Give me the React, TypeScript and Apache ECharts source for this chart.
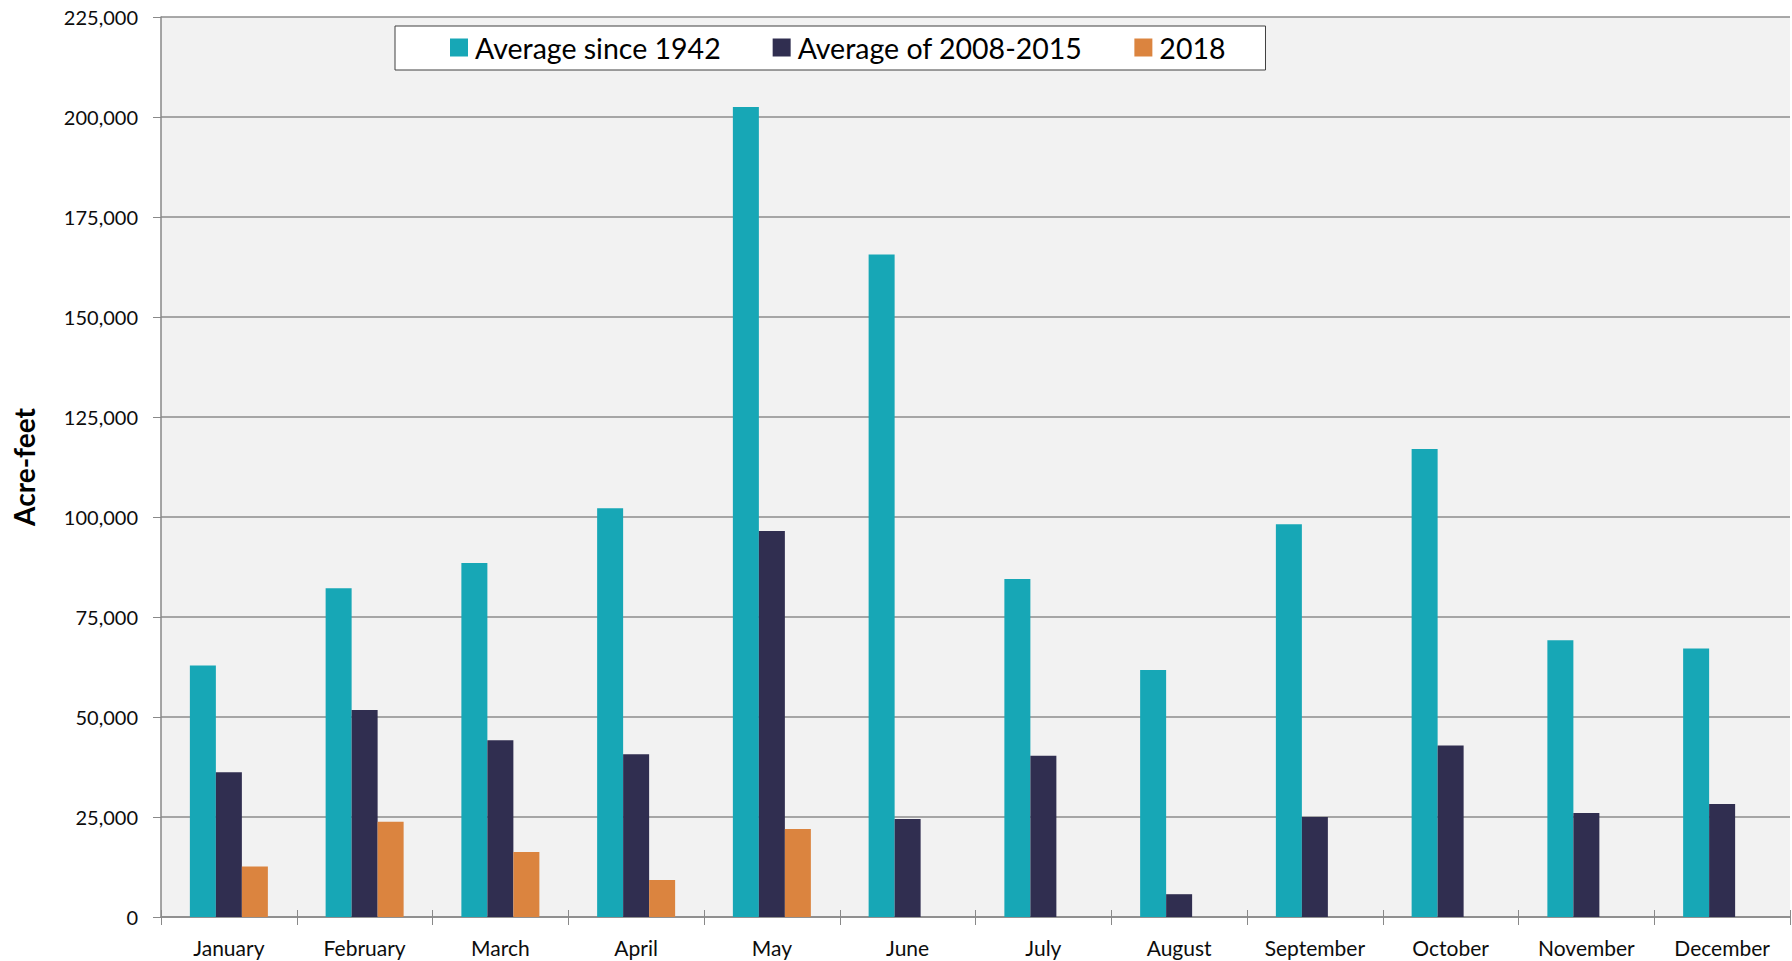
import React, { useEffect, useRef } from "react";
import * as echarts from "echarts";

const months = ["January", "February", "March", "April", "May", "June", "July", "August", "September", "October", "November", "December"];
const avgSince1942 = [62900, 82200, 88500, 102200, 202500, 165600, 84500, 61750, 98200, 117000, 69200, 67100];
const avg2008to2015 = [36200, 51750, 44200, 40700, 96500, 24500, 40300, 5700, 25000, 42900, 26000, 28250];
const y2018 = [12600, 23800, 16250, 9250, 22000, null, null, null, null, null, null, null];
const seriesNames = ["Average since 1942", "Average of 2008-2015", "2018"];
const seriesColors = ["#17A7B6", "#302E50", "#DB843F"];

const FONT = "Lato";

export default function App() {
  const ref = useRef<HTMLDivElement>(null);
  useEffect(() => {
    if (!ref.current) return;
    const chart = echarts.init(ref.current, undefined, { renderer: "svg" });
    const data = [avgSince1942, avg2008to2015, y2018];
    chart.setOption({
      animation: false,
      textStyle: { fontFamily: FONT },
      grid: {
        left: 161,
        top: 17,
        right: 2,
        bottom: 44,
        containLabel: false,
        outerBoundsMode: "none",
        show: true,
        backgroundColor: "#F2F2F2",
        borderWidth: 0,
      },
      legend: {
        left: 395,
        top: 26,
        orient: "horizontal",
        padding: [7, 40, 8, 55],
        itemWidth: 18,
        itemHeight: 18,
        itemGap: 52,
        backgroundColor: "#FFFFFF",
        borderColor: "#404040",
        borderWidth: 1,
        icon: "rect",
        textStyle: { fontFamily: FONT, fontSize: 28.5, color: "#000000", padding: [0, 0, 0, 2] },
        data: seriesNames,
      },
      xAxis: [
        {
          type: "category",
          data: months,
          boundaryGap: true,
          axisLine: { show: true, lineStyle: { color: "#898989", width: 1.5 } },
          axisTick: { show: true, length: 8, lineStyle: { color: "#898989", width: 1 } },
          axisLabel: { fontFamily: FONT, fontSize: 21, color: "#0D0D0D", margin: 20, interval: 0 },
          splitLine: { show: false },
        },
        {
          type: "category",
          data: months,
          position: "bottom",
          boundaryGap: true,
          axisLine: { show: false },
          axisTick: { show: true, inside: true, length: 7, lineStyle: { color: "#898989", width: 1 } },
          axisLabel: { show: false },
          splitLine: { show: false },
        },
      ],
      yAxis: {
        type: "value",
        min: 0,
        max: 225000,
        interval: 25000,
        name: "Acre-feet",
        nameLocation: "middle",
        nameRotate: 90,
        nameGap: 123,
        nameTextStyle: { fontFamily: FONT, fontSize: 28, fontWeight: "bold", color: "#000000" },
        axisLine: { show: true, lineStyle: { color: "#898989", width: 1.5 } },
        axisTick: { show: true, length: 8, lineStyle: { color: "#898989", width: 1 } },
        axisLabel: {
          fontFamily: FONT,
          fontSize: 20,
          color: "#0D0D0D",
          margin: 23,
          formatter: (v: number) => v.toLocaleString("en-US"),
        },
        splitLine: { show: true, lineStyle: { color: "#8C8C8C", width: 1.5 } },
      },
      series: data.map((d, i) => ({
        name: seriesNames[i],
        type: "bar",
        xAxisIndex: 0,
        data: d,
        barWidth: 26,
        barGap: "0%",
        itemStyle: { color: seriesColors[i] },
      })),
    });
    return () => chart.dispose();
  }, []);
  return (
    <div
      ref={ref}
      style={{ position: "fixed", left: 0, top: 0, width: 1792, height: 961, background: "#FFFFFF" }}
    />
  );
}
